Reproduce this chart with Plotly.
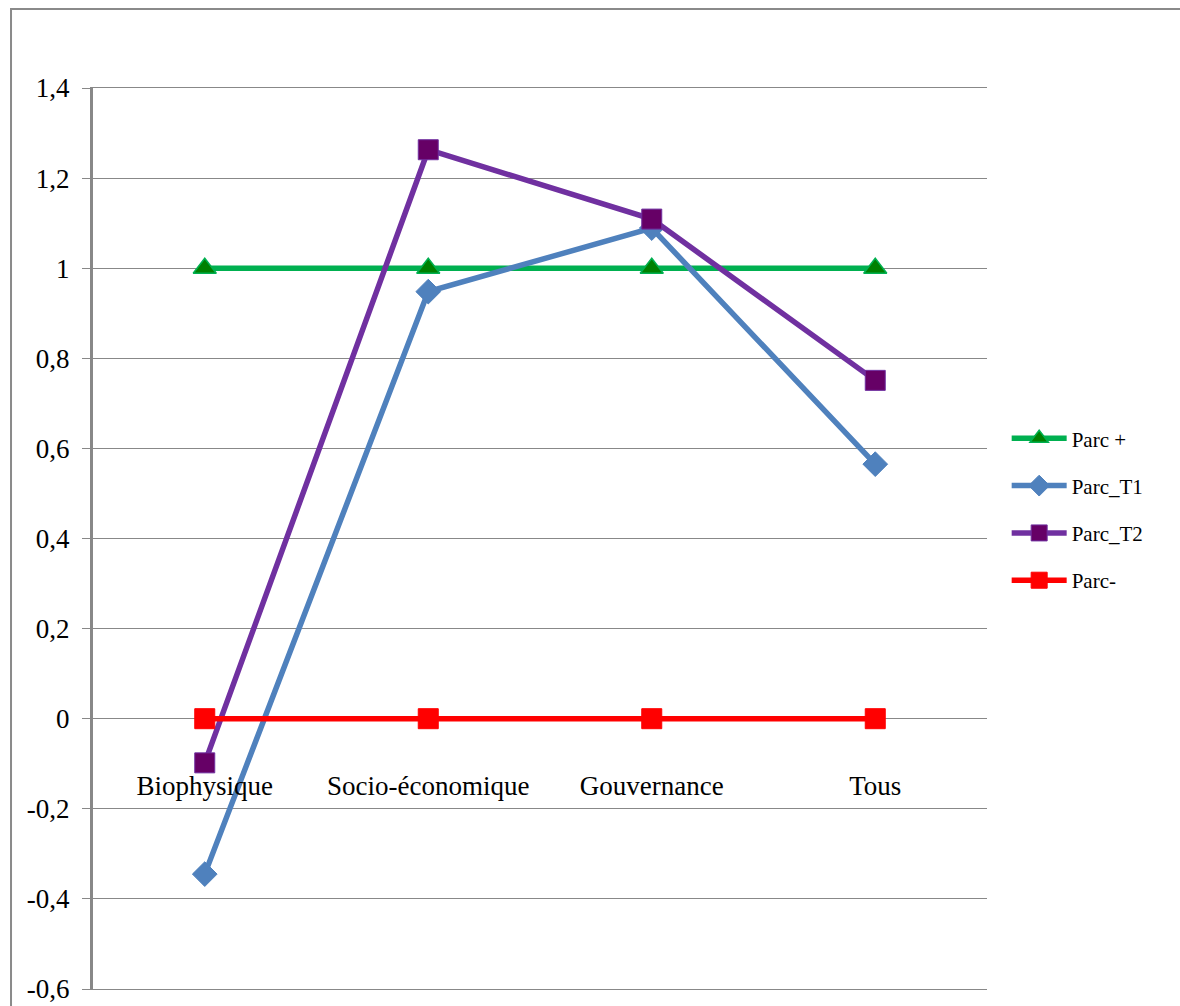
import plotly.graph_objects as go

categories = ["Biophysique", "Socio-économique", "Gouvernance", "Tous"]
parc_plus = [1, 1, 1, 1]
parc_t1 = [-0.345, 0.948, 1.089, 0.565]
parc_t2 = [-0.098, 1.263, 1.109, 0.751]
parc_minus = [0, 0, 0, 0]
y_tickvals = [-0.6, -0.4, -0.2, 0, 0.2, 0.4, 0.6, 0.8, 1, 1.2, 1.4]
y_ticktext = ["-0,6", "-0,4", "-0,2", "0", "0,2", "0,4", "0,6", "0,8", "1", "1,2", "1,4"]

FONT = "Liberation Serif"
GRID = "#888888"

fig = go.Figure()
series = [
    ("Parc +", parc_plus, "#00b050", dict(symbol="triangle-up", size=20, color="#008000", line=dict(color="#00b050", width=1.5))),
    ("Parc_T1", parc_t1, "#4f81bd", dict(symbol="diamond", size=19, color="#4f81bd", line=dict(color="#4f81bd", width=1))),
    ("Parc_T2", parc_t2, "#7030a0", dict(symbol="square", size=20, color="#660066", line=dict(color="#7030a0", width=1))),
    ("Parc-", parc_minus, "#ff0000", dict(symbol="square", size=20, color="#ff0000", line=dict(color="#ff0000", width=1))),
]
for i, (name, vals, col, mk) in enumerate(series):
    fig.add_trace(go.Scatter(
        x=categories, y=vals, name=name, mode="lines+markers",
        line=dict(color=col, width=5.5), marker=mk, legendgroup=f"g{i}",
    ))

# invisible helper traces for the label axis (crossing at zero) and the top border axis
fig.add_trace(go.Scatter(x=categories, y=parc_minus, xaxis="x2", mode="none",
                         showlegend=False, hoverinfo="skip"))
fig.add_trace(go.Scatter(x=categories, y=parc_minus, xaxis="x3", mode="none",
                         showlegend=False, hoverinfo="skip"))

fig.update_layout(
    width=1180, height=1006,
    margin=dict(l=93, r=193, t=88, b=17, autoexpand=False),
    paper_bgcolor="white", plot_bgcolor="white",
    font=dict(family=FONT, size=27, color="black"),
    showlegend=True,
    legend=dict(x=1.022, xanchor="left", y=0.532, yanchor="middle",
                font=dict(family=FONT, size=21), traceorder="grouped",
                tracegroupgap=17, itemwidth=55, bgcolor="rgba(0,0,0,0)"),
    xaxis=dict(type="category", range=[-0.5, 3.5], showgrid=False, zeroline=False,
               showline=True, linecolor=GRID, linewidth=1.3,
               showticklabels=False, ticks="", automargin=False),
    xaxis2=dict(type="category", range=[-0.5, 3.5], overlaying="x", showgrid=False,
                showline=False, zeroline=False, ticks="", anchor="free", position=0.3,
                automargin=False, ticklabelstandoff=48, tickfont=dict(family=FONT, size=27)),
    xaxis3=dict(type="category", range=[-0.5, 3.5], overlaying="x", anchor="y", side="top",
                showgrid=False, zeroline=False, showline=True, linecolor=GRID, linewidth=1.3,
                showticklabels=False, ticks="", automargin=False),
    yaxis=dict(range=[-0.6, 1.4], tickvals=y_tickvals, ticktext=y_ticktext,
               showgrid=True, gridcolor=GRID, gridwidth=1.3, zeroline=False,
               showline=True, linecolor=GRID, linewidth=3, automargin=False,
               ticks="outside", ticklen=8, tickcolor=GRID, tickwidth=1.3,
               ticklabelstandoff=7, tickfont=dict(family=FONT, size=27)),
    shapes=[dict(type="rect", xref="paper", yref="paper",
                 x0=-0.0917, x1=1.3, y0=-0.2, y1=1.0877,
                 line=dict(color="#8a8a8a", width=2), fillcolor="rgba(0,0,0,0)", layer="below")],
)

fig.write_html("out.html")
